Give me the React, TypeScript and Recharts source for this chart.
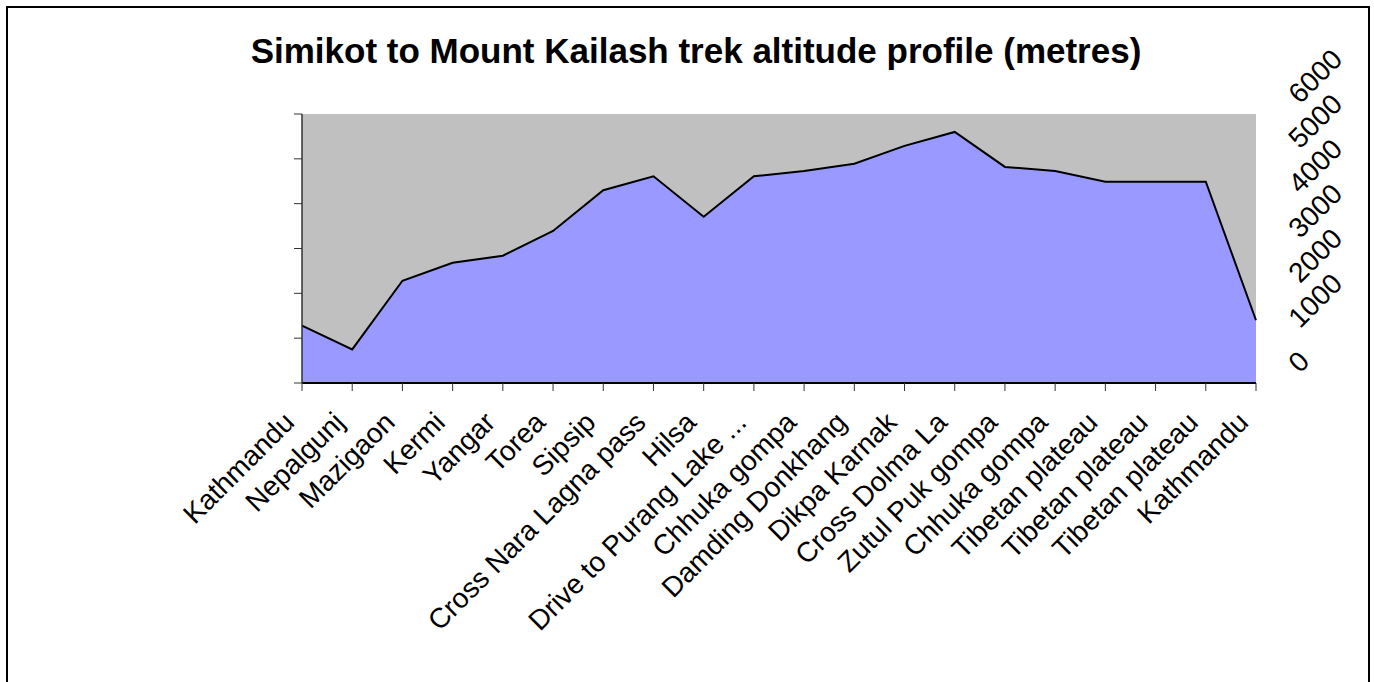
import React from 'react';
import { AreaChart, Area, XAxis, YAxis, CartesianGrid } from 'recharts';

// stops along the trek, in order
const places = [
  'Kathmandu', 'Nepalgunj', 'Mazigaon', 'Kermi', 'Yangar', 'Torea', 'Sipsip',
  'Cross Nara Lagna pass', 'Hilsa', 'Drive to Purang Lake ...', 'Chhuka gompa',
  'Damding Donkhang', 'Dikpa Karnak', 'Cross Dolma La', 'Zutul Puk gompa',
  'Chhuka gompa', 'Tibetan plateau', 'Tibetan plateau', 'Tibetan plateau', 'Kathmandu'
];

// altitude in metres
const altitudes = [
  1280, 750, 2280, 2680, 2840, 3390, 4300, 4610, 3710, 4610,
  4730, 4890, 5290, 5600, 4820, 4730, 4490, 4490, 4490, 1400
];

const altitudeTicks = [0, 1000, 2000, 3000, 4000, 5000, 6000];

const data = places.map((place, i) => ({ place, altitude: altitudes[i] }));

const FONT = '"Liberation Sans", Arial, sans-serif';

const PlaceTick = (props: any) => {
  const { x, y, payload } = props;
  return (
    <text
      transform={`translate(${x - 6},${y + 33}) rotate(-45)`}
      textAnchor="end"
      fontSize={28}
      fontFamily={FONT}
      fill="#000"
    >
      {payload.value}
    </text>
  );
};

const AltTick = (props: any) => {
  const { x, y, payload } = props;
  return (
    <text
      transform={`translate(${x + 44},${y - 9}) rotate(-45)`}
      textAnchor="start"
      fontSize={28}
      fontFamily={FONT}
      fill="#000"
    >
      {payload.value}
    </text>
  );
};

const NoLabel = () => <g />;

const App = () => {
  return (
    <div style={{ position: 'relative', width: 1360, height: 660, background: '#fff' }}>
      {/* chart frame, fixed so it runs off the bottom without adding scroll */}
      <div
        style={{
          position: 'fixed',
          left: 6,
          top: 6,
          width: 1360,
          height: 720,
          border: '2px solid #000',
          pointerEvents: 'none',
          zIndex: 2,
        }}
      />
      <div
        style={{
          position: 'absolute',
          left: 0,
          top: 25,
          width: 1376,
          textAlign: 'center',
          fontFamily: FONT,
          fontWeight: 'bold',
          fontSize: 35,
          lineHeight: '35px',
          color: '#000',
          zIndex: 1,
        }}
      >
        Simikot to Mount Kailash trek altitude profile (metres)
      </div>
      <AreaChart
        width={1360}
        height={660}
        data={data}
        margin={{ top: 106, right: 0, bottom: 15, left: 274 }}
      >
        <CartesianGrid fill="#C0C0C0" stroke="none" horizontal={false} vertical={false} />
        <XAxis
          dataKey="place"
          interval={0}
          height={270}
          tickSize={8}
          tickMargin={0}
          tick={PlaceTick}
          axisLine={{ stroke: '#000', strokeWidth: 2 }}
          tickLine={{ stroke: '#333' }}
        />
        <YAxis
          domain={[0, 6000]}
          ticks={altitudeTicks}
          width={20}
          tickSize={8}
          tickMargin={0}
          tick={NoLabel}
          axisLine={{ stroke: '#333', strokeWidth: 1.5 }}
          tickLine={{ stroke: '#333' }}
        />
        <YAxis
          yAxisId="right"
          orientation="right"
          domain={[0, 6000]}
          allowDataOverflow
          ticks={altitudeTicks}
          width={112}
          tickSize={0}
          tickMargin={0}
          axisLine={false}
          tickLine={false}
          tick={AltTick}
        />
        <Area
          type="linear"
          dataKey="altitude"
          fill="#9999FF"
          fillOpacity={1}
          stroke="#000"
          strokeWidth={2}
          dot={false}
          activeDot={false}
          isAnimationActive={false}
        />
      </AreaChart>
    </div>
  );
};

export default App;
